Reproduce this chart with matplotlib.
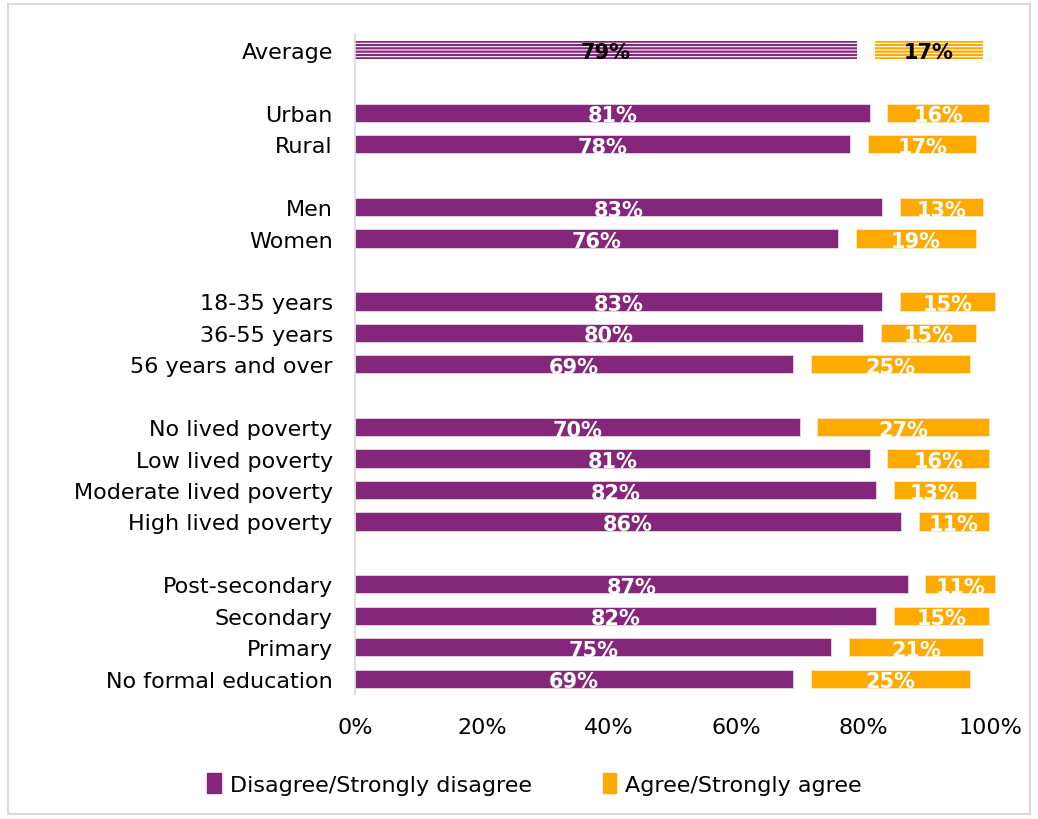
import matplotlib.pyplot as plt
from matplotlib.patches import Rectangle

# Data (percent)
categories = ['Average', 'Urban', 'Rural', 'Men', 'Women',
              '18-35 years', '36-55 years', '56 years and over',
              'No lived poverty', 'Low lived poverty', 'Moderate lived poverty', 'High lived poverty',
              'Post-secondary', 'Secondary', 'Primary', 'No formal education']
disagree = [79, 81, 78, 83, 76, 83, 80, 69, 70, 81, 82, 86, 87, 82, 75, 69]
agree = [17, 16, 17, 13, 19, 15, 15, 25, 27, 16, 13, 11, 11, 15, 21, 25]
# row positions (blank rows between groups)
rows = [0, 2, 3, 5, 6, 8, 9, 10, 12, 13, 14, 15, 17, 18, 19, 20]

purple = '#84277A'
orange = '#FFAA00'
gap = 2.8  # white space between the two segments

plt.rcParams['font.family'] = ['DejaVu Sans']
plt.rcParams['hatch.linewidth'] = 1.6

fig = plt.figure(figsize=(10.38, 8.2), dpi=100)
ax = fig.add_axes([0.342, 0.152, 0.612, 0.805])

h = 0.58
for i, (r, d, a) in enumerate(zip(rows, disagree, agree)):
    left_a = d + gap
    if i == 0:
        ax.barh(r, d, height=h, facecolor='white', edgecolor=purple, hatch='-----',
                linewidth=0, clip_on=False)
        ax.barh(r, a, left=left_a, height=h, facecolor='white', edgecolor=orange,
                hatch='-----', linewidth=0, clip_on=False)
        tc = 'black'
    else:
        ax.barh(r, d, height=h, color=purple, edgecolor='#E8D5E5', linewidth=0.6, clip_on=False)
        ax.barh(r, a, left=left_a, height=h, color=orange, edgecolor='#FFE9BF',
                linewidth=0.6, clip_on=False)
        tc = 'white'
    ax.text(d / 2, r + 0.08, f'{d}%', ha='center', va='center', color=tc,
            fontsize=15, fontweight='bold')
    ax.text(left_a + a / 2, r + 0.08, f'{a}%', ha='center', va='center', color=tc,
            fontsize=15, fontweight='bold')

ax.set_yticks(rows)
ax.set_yticklabels(categories, fontsize=16)
ax.set_ylim(20.5, -0.5)
ax.set_xlim(0, 100)
ax.set_xticks([0, 20, 40, 60, 80, 100])
ax.set_xticklabels(['0%', '20%', '40%', '60%', '80%', '100%'], fontsize=16)
ax.tick_params(length=0)
ax.tick_params(axis='y', pad=16)
ax.tick_params(axis='x', pad=16)
for s in ['top', 'right', 'bottom']:
    ax.spines[s].set_visible(False)
ax.spines['left'].set_color('#D9D9D9')
ax.spines['left'].set_linewidth(1.2)

# legend
handles = [Rectangle((0, 0), 1, 1, color=purple), Rectangle((0, 0), 1, 1, color=orange)]
fig.legend(handles, ['Disagree/Strongly disagree', 'Agree/Strongly agree'],
           loc='center', bbox_to_anchor=(0.515, 0.043), ncol=2, frameon=False,
           fontsize=16, handlelength=0.6, handleheight=1.0, handletextpad=0.4,
           columnspacing=3.2)

# thin grey frame around the figure
fig.patches.append(Rectangle((0.008, 0.006), 0.984, 0.988, transform=fig.transFigure,
                             fill=False, edgecolor='#D9D9D9', linewidth=1.5))

plt.savefig('out.png', dpi=100)
